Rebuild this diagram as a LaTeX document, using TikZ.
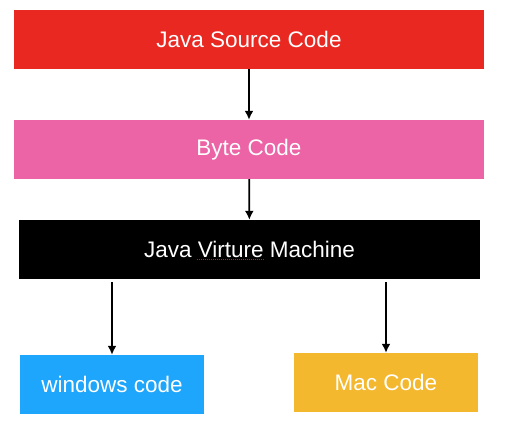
\documentclass[tikz,border=0pt]{standalone}
\usepackage{fontspec}
\setmainfont{Liberation Sans}
\usepackage{tikz}
\usepackage{xcolor}
\usetikzlibrary{calc,arrows.meta}

\definecolor{srcred}{RGB}{234,40,34}
\definecolor{bytepink}{RGB}{236,99,166}
\definecolor{winblue}{RGB}{30,165,252}
\definecolor{macorange}{RGB}{244,184,46}

\tikzset{
    block/.style={rectangle, text=white, font=\fontsize{22.5}{25}\selectfont, minimum height=59pt, inner sep=0pt},
    flow/.style={line width=1.8pt, -{Latex[length=9pt,width=9pt]}}
}

\begin{document}
\begin{tikzpicture}[x=1pt, y=-1pt]
        \useasboundingbox (0,0) rectangle (508,427);

        \node [block, fill=srcred, minimum width=470pt] (src) at (249,39.5) {Java Source Code};
        \node [block, fill=bytepink, minimum width=470pt] (byte) at (249,149.5) {Byte Code};
        \node [block, fill=black, minimum width=461pt] (jvm) at (249.5,249.5) {Java Virture Machine};
        \node [block, fill=winblue, minimum width=184pt] (win) at (112,384.5) {windows code};
        \node [block, fill=macorange, minimum width=184pt] (mac) at (386,382.5) {Mac Code};

        \draw [flow] (src) -- (byte);
        \draw [flow] (byte) -- (jvm);
        \draw [flow, shorten <=3pt] (jvm.south -| win) -- (win);
        \draw [flow, shorten <=3pt] (jvm.south -| mac) -- (mac);

        % spell-check mark under Virture
        \draw [red, line width=1pt, dash pattern=on 1pt off 1pt] ($(jvm.center)+(-53,10)$) -- ($(jvm.center)+(14,10)$);
    \end{tikzpicture}
\end{document}
